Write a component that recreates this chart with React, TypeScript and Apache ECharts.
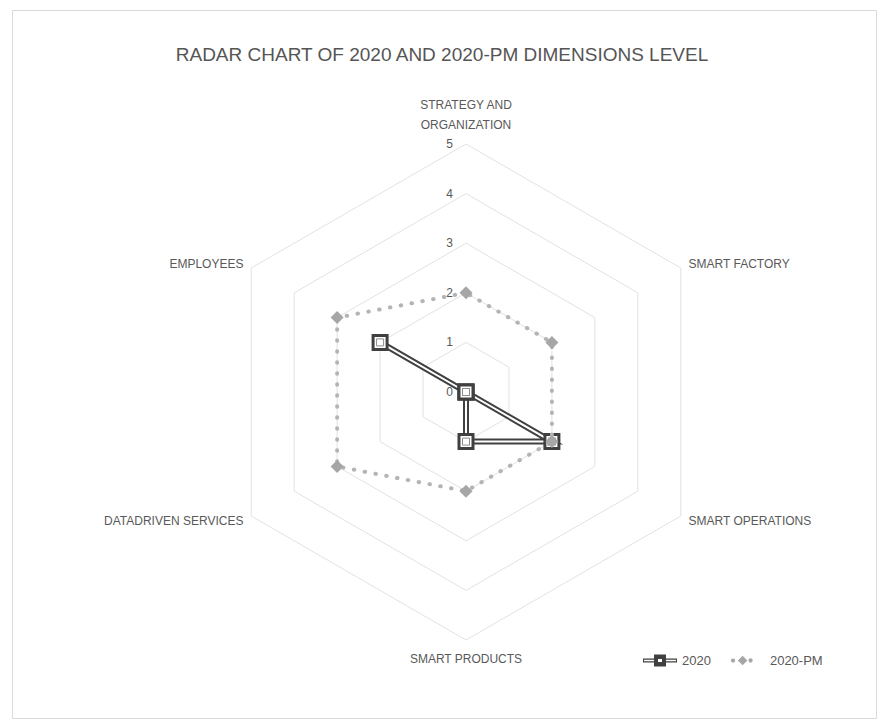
import React, { useEffect, useRef } from "react";
import * as echarts from "echarts";

// Dimensions in clockwise order starting at the top
const categories = [
  "STRATEGY AND\nORGANIZATION",
  "SMART FACTORY",
  "SMART OPERATIONS",
  "SMART PRODUCTS",
  "DATADRIVEN SERVICES",
  "EMPLOYEES",
];
const values2020 = [0, 0, 2, 1, 0, 2];
const values2020PM = [2, 2, 2, 2, 3, 3];
const axisTicks = [0, 1, 2, 3, 4, 5];
const seriesNames = ["2020", "2020-PM"];

// ECharts places radar indicators counter-clockwise; reorder so the picture runs clockwise
const order = [0, 5, 4, 3, 2, 1];
const reorder = (arr: any[]) => order.map((i) => arr[i]);

const DARK = "#404040";
const PM_LINE = "#b4b4b4";
const PM_MARK = "#a6a6a6";
const TEXT = "#595959";
const FONT = "'Liberation Sans', Arial, sans-serif";

const icon2020 =
  "path://M0 4 L11 4 L11 0 L23 0 L23 4 L34 4 L34 8 L23 8 L23 12 L11 12 L11 8 L0 8 Z " +
  "M1 5.2 L1 6.8 L11 6.8 L11 5.2 Z M23 5.2 L23 6.8 L33 6.8 L33 5.2 Z M15 4.5 L15 7.5 L19 7.5 L19 4.5 Z";
const iconPM =
  "path://M2 6 A2 2 0 1 1 6 6 A2 2 0 1 1 2 6 Z M13 1.5 L17.5 6 L13 10.5 L8.5 6 Z " +
  "M18.5 6 A2 2 0 1 1 22.5 6 A2 2 0 1 1 18.5 6 Z M32 6 L32 6.01 L34 6.01 L34 6 Z";

export default function App() {
  const ref = useRef<HTMLDivElement>(null);
  useEffect(() => {
    if (!ref.current) return;
    const chart = echarts.init(ref.current, null, { renderer: "svg" });
    const cats = reorder(categories);
    const v2020 = reorder(values2020);
    const vPM = reorder(values2020PM);
    const maxV = axisTicks[axisTicks.length - 1];
    const indicator = cats.map((name, i) => ({
      name,
      min: axisTicks[0],
      max: maxV,
      ...(i === 0
        ? {
            axisLabel: {
              show: true,
              color: TEXT,
              fontSize: 12,
              fontFamily: FONT,
              margin: 13,
              showMinLabel: true,
              showMaxLabel: true,
            },
          }
        : {}),
    }));

    chart.setOption({
      animation: false,
      backgroundColor: "#ffffff",
      title: {
        text: "RADAR CHART OF 2020 AND 2020-PM DIMENSIONS LEVEL",
        left: "center",
        top: 40,
        textStyle: {
          color: "#555555",
          fontSize: 19,
          fontWeight: "normal",
          fontFamily: FONT,
        },
      },
      legend: {
        left: 638,
        top: 649,
        itemGap: 20,
        itemWidth: 34,
        itemHeight: 12,
        textStyle: { color: TEXT, fontSize: 13, fontFamily: FONT },
        data: [
          { name: seriesNames[0], icon: icon2020, itemStyle: { color: DARK, borderWidth: 0 } },
          { name: seriesNames[1], icon: iconPM, itemStyle: { color: PM_MARK, borderWidth: 0 } },
        ],
      },
      radar: {
        center: [466, 392],
        radius: 248,
        startAngle: 90,
        shape: "polygon",
        splitNumber: axisTicks.length - 1,
        nameGap: 9,
        axisName: {
          color: TEXT,
          fontSize: 12,
          fontFamily: FONT,
          lineHeight: 20,
        },
        axisLine: { show: false },
        axisTick: { show: false },
        axisLabel: { show: false },
        splitArea: { show: false },
        splitLine: { lineStyle: { color: "#e2e2e2", width: 1 } },
        indicator,
      },
      graphic: [
        {
          type: "rect",
          left: 10,
          top: 8,
          shape: { width: 864, height: 708 },
          style: { fill: "none", stroke: "#d9d9d9", lineWidth: 1 },
          silent: true,
          z: -10,
        },
      ],
      series: [
        {
          type: "radar",
          name: "2020-outer",
          symbol: "none",
          lineStyle: { color: DARK, width: 6, join: "miter" },
          itemStyle: { color: DARK },
          data: [{ name: seriesNames[0], value: v2020 }],
          z: 2,
        },
        {
          type: "radar",
          name: "2020-inner",
          symbol: "none",
          lineStyle: { color: "#ffffff", width: 2, join: "miter" },
          itemStyle: { color: "#ffffff" },
          data: [{ name: seriesNames[0], value: v2020 }],
          z: 3,
        },
        {
          type: "radar",
          name: "2020-marker",
          symbol: "rect",
          symbolSize: 14,
          lineStyle: { width: 0, opacity: 0 },
          itemStyle: { color: "#ffffff", borderColor: DARK, borderWidth: 3 },
          data: [{ name: seriesNames[0], value: v2020 }],
          z: 4,
        },
        {
          type: "radar",
          name: "2020-marker-inner",
          symbol: "rect",
          symbolSize: 7,
          lineStyle: { width: 0, opacity: 0 },
          itemStyle: { color: "#ffffff", borderColor: "#8c8c8c", borderWidth: 1 },
          data: [{ name: seriesNames[0], value: v2020 }],
          z: 5,
        },
        {
          type: "radar",
          name: "2020-PM",
          symbol: "diamond",
          symbolSize: 13,
          lineStyle: { color: PM_LINE, width: 4, type: [0.5, 10.5], cap: "round" },
          itemStyle: { color: PM_MARK, borderWidth: 0 },
          data: [{ name: seriesNames[1], value: vPM }],
          z: 6,
        },
      ],
    });
    return () => chart.dispose();
  }, []);

  return (
    <div
      ref={ref}
      style={{ position: "absolute", left: 0, top: 0, width: 884, height: 722, background: "#fff" }}
    />
  );
}
